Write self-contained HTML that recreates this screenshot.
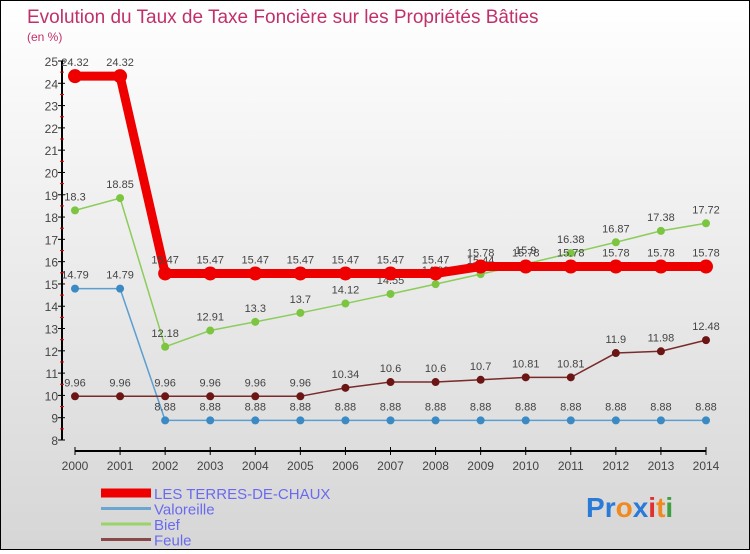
<!DOCTYPE html>
<html><head><meta charset="utf-8"><style>
body{margin:0;width:750px;height:550px;overflow:hidden;font-family:"Liberation Sans",sans-serif}
#c{position:absolute;left:0;top:0;width:748px;height:548px;border:1px solid #000;background:linear-gradient(#fff,#d6d6d6)}
</style></head><body>
<div id="c">
<svg id="s" width="748" height="548"></svg>
</div>
<script>
const years=[2000,2001,2002,2003,2004,2005,2006,2007,2008,2009,2010,2011,2012,2013,2014];
const terres=[24.32,24.32,15.47,15.47,15.47,15.47,15.47,15.47,15.47,15.78,15.78,15.78,15.78,15.78,15.78];
const valoreille=[14.79,14.79,8.88,8.88,8.88,8.88,8.88,8.88,8.88,8.88,8.88,8.88,8.88,8.88,8.88];
const bief=[18.3,18.85,12.18,12.91,13.3,13.7,14.12,14.55,14.99,15.44,15.9,16.38,16.87,17.38,17.72];
const feule=[9.96,9.96,9.96,9.96,9.96,9.96,10.34,10.6,10.6,10.7,10.81,10.81,11.9,11.98,12.48];
const yTicks=[8,9,10,11,12,13,14,15,16,17,18,19,20,21,22,23,24,25];
const NS="http://www.w3.org/2000/svg",s=document.getElementById('s');
const X=i=>74+i*(631/14), Y=v=>439-(v-8)*(379/17);
function el(t,a,p){const e=document.createElementNS(NS,t);for(const k in a)e.setAttribute(k,a[k]);(p||s).appendChild(e);return e;}
function tx(x,y,str,a){const e=el('text',Object.assign({x:x,y:y,'font-size':12,fill:'#444'},a||{}));e.textContent=str;return e;}
let t=tx(26,22,'Evolution du Taux de Taxe Foncière sur les Propriétés Bâties',{'font-size':19,fill:'#c0306a'});

t=tx(26,40,'(en %)',{'font-size':12,fill:'#c0306a'});

let a=el('line',{x1:61,y1:Y(25),x2:61,y2:Y(8),stroke:'#000','stroke-width':2});

yTicks.forEach(v=>{el('line',{x1:57,y1:Y(v),x2:64,y2:Y(v),stroke:'#000'});
 if(v<25)el('line',{x1:59,y1:Y(v+.5),x2:63,y2:Y(v+.5),stroke:'#e00'});
 const l=tx(57,Y(v)+5,String(v),{'text-anchor':'end','font-size':12});
 });
a=el('line',{x1:X(0),y1:450,x2:X(14),y2:450,stroke:'#000','stroke-width':2});

years.forEach((y,i)=>{el('line',{x1:X(i),y1:446,x2:X(i),y2:454,stroke:'#000'});
 const l=tx(X(i),469,String(y),{'text-anchor':'middle','font-size':12});
 });
function series(d,col,w,r,dot,name){
 const g=el('g',{});
 el('polyline',{points:d.map((v,i)=>X(i)+','+Y(v)).join(' '),fill:'none',stroke:col,'stroke-width':w},g);
 d.forEach((v,i)=>{const c=el('circle',{cx:X(i),cy:Y(v),r:r,fill:dot},g);
  
  tx(X(i),Y(v)-10,String(v),{'text-anchor':'middle','font-size':11,fill:'#444'},g);});
}
series(valoreille,'#5b9fd0',1.5,4,'#3c8ac4','valoreille-series');
series(feule,'#7a2a2a',1.5,4,'#6b1515','feule-series');
series(bief,'#8ccc5a',1.5,4,'#7cc540','bief-series');
series(terres,'#ee0000',9,7,'#ee0000','terres-series');
const names=['LES TERRES-DE-CHAUX','Valoreille','Bief','Feule'],cols=['#ee0000','#6aa6d0','#9ad36a','#8a4848'],ws=[9,3,3,3];
names.forEach((n,i)=>{const g=el('g',{});
 const y=492+i*15.5;el('line',{x1:100,y1:y,x2:150,y2:y,stroke:cols[i],'stroke-width':ws[i]},g);
 tx(153,y+6,n,{'font-size':15,fill:'#6a6af0'},g);});
const lg=el('text',{x:585,y:516,'font-size':28,'font-weight':'bold'});

[['P','#2a7ad8'],['r','#2a7ad8'],['o','#f08a20'],['x','#2a7ad8'],['i','#e03030'],['t','#f08a20'],['i','#40a040']].forEach(([c,f])=>{const sp=el('tspan',{fill:f},lg);sp.textContent=c;});
</script>
</body></html>
